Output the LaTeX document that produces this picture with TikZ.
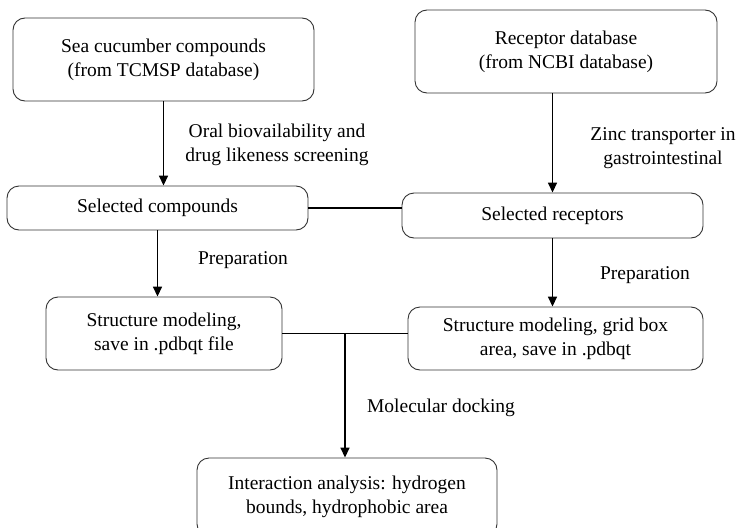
\documentclass[tikz,border=0pt]{standalone}
\usepackage{fontspec}
\setmainfont{Liberation Serif}
\usetikzlibrary{positioning}
\usetikzlibrary{calc}
\usetikzlibrary{arrows.meta}
\tikzset{>={Triangle[length=10pt,width=9pt]}}

\begin{document}
\begin{tikzpicture}
	[x=1pt,y=-1pt,
	font=\fontsize{19.5}{24}\selectfont,
	box/.style={draw=black!80,line width=0.9pt,rounded corners=12pt,align=center,inner sep=0pt},
	note/.style={align=center,inner sep=0pt},
	flow/.style={->,line width=1.6pt}]
	\useasboundingbox (0,0) rectangle (743,527);
	\node [box,minimum width=301pt,minimum height=83pt] (sea) at (163.5,59.5) {Sea cucumber compounds\\(from TCMSP database)};
	\node [box,minimum width=302pt,minimum height=83pt] (receptor) at (566,51.5) {Receptor database\\(from NCBI database)};
	\node [box,minimum width=301pt,minimum height=44pt] (compounds) at (157.5,208) {Selected compounds};
	\node [box,minimum width=301pt,minimum height=45pt] (receptors) at (552.5,215.5) {Selected receptors};
	\node [box,minimum width=236pt,minimum height=73pt] (ligand) at (164,333.5) {Structure modeling,\\save in .pdbqt file};
	\node [box,minimum width=295pt,minimum height=63pt] (protein) at (555.5,338.5) {Structure modeling, grid box\\area, save in .pdbqt};
	\node [box,minimum width=300pt,minimum height=78pt] (analysis) at (347,497) {Interaction analysis: hydrogen\\bounds, hydrophobic area};
	% labels
	\node [note] (screen) at (277,145) {Oral biovailability and\\drug likeness screening};
	\node [note] (zinc) at (663,148) {Zinc transporter in\\gastrointestinal};
	\node [note] (prepa) at (243,260) {Preparation};
	\node [note] (prepb) at (645,275) {Preparation};
	\node [note] (docking) at (441,408) {Molecular docking};
	% connectors
	\draw [flow] (sea.south) -- (sea.south |- compounds.north);
	\draw [flow] (receptors.north |- receptor.south) -- (receptors.north);
	\draw [line width=1.6pt] (compounds.east) -- (compounds.east -| receptors.west);
	\draw [flow] (compounds.south) -- (compounds.south |- ligand.north);
	\draw [flow] (receptors.south) -- (receptors.south |- protein.north);
	\draw [line width=1.6pt] (ligand.east) -- (ligand.east -| protein.west);
	\coordinate (dock) at ($(ligand.east)!0.5!(ligand.east -| protein.west)$);
	\draw [flow] (dock) -- (dock |- analysis.north);
\end{tikzpicture}
\end{document}
